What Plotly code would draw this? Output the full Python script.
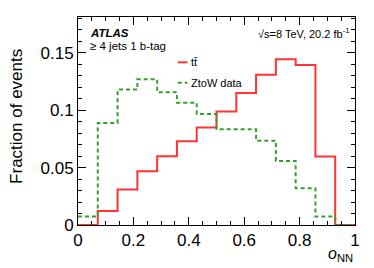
import plotly.graph_objects as go

n_bins = 14
tt_values = [0.0, 0.0122, 0.031, 0.0468, 0.060, 0.073, 0.085, 0.099,
             0.115, 0.131, 0.1445, 0.1395, 0.0596, 0.0]
ztow_values = [0.0073, 0.089, 0.118, 0.127, 0.1157, 0.1066, 0.0968, 0.0834,
               0.0834, 0.0735, 0.0558, 0.032, 0.0073, 0.0]
x_ticks = [0, 0.2, 0.4, 0.6, 0.8, 1]
x_ticklabels = ["0", "0.2", "0.4", "0.6", "0.8", "1"]
y_ticks = [0, 0.05, 0.1, 0.15]
y_ticklabels = ["0", "0.05", "0.1", "0.15"]

edges = [i / n_bins for i in range(n_bins + 1)]

FONT = "Liberation Sans, Arial, Helvetica, sans-serif"
RED = "#ff3333"
GREEN = "#33a02c"

fig = go.Figure()
fig.add_trace(go.Scatter(x=edges, y=tt_values + [tt_values[-1]], mode="lines",
                         line=dict(shape="hv", color=RED, width=2),
                         name="tt̄", showlegend=False))
fig.add_trace(go.Scatter(x=edges, y=ztow_values + [ztow_values[-1]], mode="lines",
                         line=dict(shape="hv", color=GREEN, width=2, dash="4px,3px"),
                         name="ZtoW data", showlegend=False))

axis_common = dict(showgrid=False, zeroline=False, showline=True, linecolor="black",
                   linewidth=1, mirror="ticks", ticks="inside", ticklen=8,
                   tickcolor="black", tickwidth=1, automargin=False,
                   tickfont=dict(family=FONT, size=17, color="black"))

fig.update_xaxes(range=[0, 1], tickvals=x_ticks, ticktext=x_ticklabels,
                 minor=dict(dtick=0.05, ticks="inside", ticklen=4, tickcolor="black"),
                 **axis_common)
fig.update_yaxes(range=[0, 0.1813], tickvals=y_ticks, ticktext=y_ticklabels,
                 minor=dict(dtick=0.01, ticks="inside", ticklen=4, tickcolor="black"),
                 **axis_common)

fig.update_layout(width=374, height=268, margin=dict(l=78, r=19, t=17, b=43, autoexpand=False),
                  plot_bgcolor="white", paper_bgcolor="white",
                  font=dict(family=FONT, color="black"))

annos = [
    dict(x=0.036, y=0.925, text="<b><i>ATLAS</i></b>", xanchor="left", yanchor="middle", size=11.5),
    dict(x=0.036, y=0.862, text="≥ 4 jets 1 b-tag", xanchor="left", yanchor="middle", size=11.5),
    dict(x=0.985, y=0.925, text="√s=8 TeV, 20.2 fb<sup>-1</sup>", xanchor="right", yanchor="middle", size=11),
    dict(x=0.40, y=0.782, text="tt̄", xanchor="left", yanchor="middle", size=11),
    dict(x=0.40, y=0.684, text="ZtoW data", xanchor="left", yanchor="middle", size=11),
]
for a in annos:
    fig.add_annotation(x=a["x"], y=a["y"], xref="paper", yref="paper", text=a["text"],
                       showarrow=False, xanchor=a["xanchor"], yanchor=a["yanchor"],
                       font=dict(family=FONT, size=a["size"], color="black"))

fig.add_annotation(x=1.0, y=-0.085, xref="paper", yref="paper",
                   text="<i>o</i><sub>NN</sub>", showarrow=False, xanchor="right", yanchor="top",
                   font=dict(family=FONT, size=16, color="black"))
fig.add_annotation(x=-0.22, y=0.52, xref="paper", yref="paper",
                   text="Fraction of events", showarrow=False, textangle=-90,
                   xanchor="center", yanchor="middle",
                   font=dict(family=FONT, size=17, color="black"))

# legend samples
fig.add_shape(type="line", xref="paper", yref="paper", x0=0.36, x1=0.395, y0=0.782, y1=0.782,
              line=dict(color=RED, width=2))
fig.add_shape(type="line", xref="paper", yref="paper", x0=0.36, x1=0.395, y0=0.684, y1=0.684,
              line=dict(color=GREEN, width=2, dash="4px,3px"))

fig.write_html("out.html", config={"displayModeBar": False},
               post_script="document.body.style.margin='0';")
